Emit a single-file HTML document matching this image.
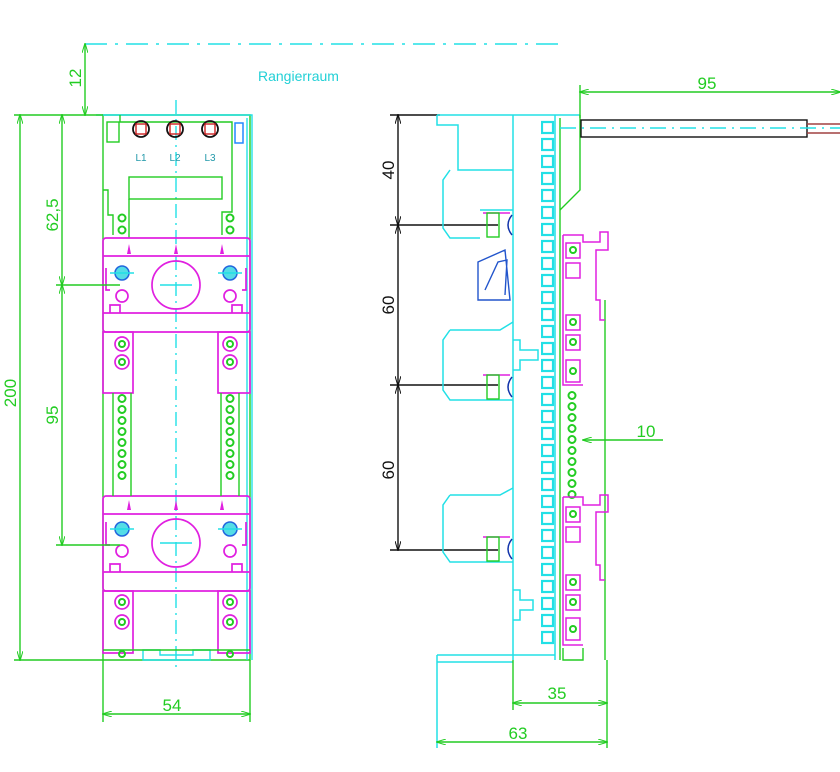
<!DOCTYPE html>
<html><head><meta charset="utf-8"><style>
html,body{margin:0;padding:0;background:#fff;width:840px;height:772px;overflow:hidden}
svg{display:block}
text{font-family:"Liberation Sans",sans-serif}
</style></head><body>
<svg width="840" height="772" viewBox="0 0 840 772" xmlns="http://www.w3.org/2000/svg">
<defs>
<pattern id="teeth" x="541" y="120" width="14" height="17" patternUnits="userSpaceOnUse">
<rect x="1" y="2" width="11" height="11" fill="none" stroke="#22e0e6" stroke-width="2.2"/>
</pattern>
<pattern id="dots" x="116" y="393" width="12" height="11" patternUnits="userSpaceOnUse">
<circle cx="6" cy="5.5" r="3.5" fill="none" stroke="#22cc22" stroke-width="2"/>
</pattern>
<pattern id="dots2" x="566" y="390" width="12" height="11" patternUnits="userSpaceOnUse">
<circle cx="6" cy="5.5" r="3.5" fill="none" stroke="#22cc22" stroke-width="2"/>
</pattern>
<marker id="ag" markerWidth="10" markerHeight="6" refX="9" refY="3" orient="auto-start-reverse" markerUnits="userSpaceOnUse"><path d="M0 0 L10 3 L0 6" fill="none" stroke="#22cc22"/></marker>
<marker id="ab" markerWidth="10" markerHeight="6" refX="9" refY="3" orient="auto-start-reverse" markerUnits="userSpaceOnUse"><path d="M0 0 L10 3 L0 6" fill="none" stroke="#111"/></marker>
</defs>
<g fill="none" stroke-width="1.4">
<line x1="85" y1="44" x2="562" y2="44" stroke="#22e0e6" stroke-dasharray="22,8,3,8"/>
<!-- FRONT VIEW -->
<path d="M103 115 H250 V660 H103 Z" stroke="#22cc22"/>
<path d="M96 115 H252 V660" stroke="#22e0e6"/>
<line x1="247" y1="118" x2="247" y2="660" stroke="#22e0e6"/>
<line x1="176" y1="100" x2="176" y2="672" stroke="#22e0e6" stroke-dasharray="14,5,2,5"/>
<path d="M120 115 V122 H232 V212 H222 V235" stroke="#22cc22"/>
<rect x="129" y="177" width="93" height="22" stroke="#22cc22"/>
<line x1="129" y1="199" x2="129" y2="238" stroke="#22cc22"/>
<rect x="107" y="122" width="12" height="20" stroke="#22cc22"/>
<rect x="235" y="123" width="8" height="20" stroke="#2288ff" stroke-width="1.5"/>
<path d="M103 190 H108 V215 H113 V235" stroke="#22cc22"/>
<g stroke="#111" stroke-width="1.8"><circle cx="141" cy="129" r="8"/><circle cx="175" cy="129" r="8"/><circle cx="210" cy="129" r="8"/></g>
<g stroke="#cc2222"><rect x="136" y="124" width="10" height="10"/><rect x="170" y="124" width="10" height="10"/><rect x="205" y="124" width="10" height="10"/></g>
<g stroke="#22cc22" stroke-width="2"><circle cx="122" cy="218" r="3.5"/><circle cx="122" cy="230" r="3.5"/><circle cx="230" cy="218" r="3.5"/><circle cx="230" cy="230" r="3.5"/></g>
<g stroke="#e020e0" stroke-width="1.7">
<rect x="103" y="238" width="147" height="94" rx="3"/>
<line x1="103" y1="256" x2="250" y2="256"/>
<line x1="103" y1="313" x2="250" y2="313"/>
<circle cx="176" cy="285" r="24"/>
<circle cx="122" cy="296" r="6"/><circle cx="230" cy="296" r="6"/>
<path d="M110 313 V305 H120 V313 M242 313 V305 H232 V313 M106 268 V290 H110 M246 268 V290 H242"/>
<rect x="103" y="332" width="30" height="61"/><rect x="218" y="332" width="32" height="61"/>
<circle cx="122" cy="344" r="7"/><circle cx="122" cy="362" r="7"/><circle cx="230" cy="344" r="7"/><circle cx="230" cy="362" r="7"/>
<rect x="103" y="496" width="147" height="95" rx="3"/>
<line x1="103" y1="514" x2="250" y2="514"/>
<line x1="103" y1="572" x2="250" y2="572"/>
<circle cx="176" cy="543" r="24"/>
<circle cx="122" cy="551" r="6"/><circle cx="230" cy="551" r="6"/>
<path d="M110 572 V564 H120 V572 M242 572 V564 H232 V572 M106 522 V545 H110 M246 522 V545 H242"/>
<rect x="103" y="591" width="30" height="62"/><rect x="218" y="591" width="32" height="62"/>
<circle cx="122" cy="602" r="7"/><circle cx="122" cy="622" r="7"/><circle cx="230" cy="602" r="7"/><circle cx="230" cy="622" r="7"/>
</g>
<g fill="#e020e0"><path d="M129 244 l2 10 h-4z"/><path d="M176 244 l2 10 h-4z"/><path d="M222 244 l2 10 h-4z"/><path d="M129 500 l2 10 h-4z"/><path d="M176 500 l2 10 h-4z"/><path d="M222 500 l2 10 h-4z"/></g>
<g stroke="#2266dd" stroke-width="1.5" fill="#55dde6"><circle cx="122" cy="273" r="7"/><circle cx="230" cy="273" r="7"/><circle cx="122" cy="529" r="7"/><circle cx="230" cy="529" r="7"/></g>
<g stroke="#22e0e6"><line x1="160" y1="285" x2="192" y2="285"/><line x1="160" y1="543" x2="192" y2="543"/><line x1="110" y1="273" x2="134" y2="273"/><line x1="218" y1="273" x2="242" y2="273"/><line x1="110" y1="529" x2="134" y2="529"/><line x1="218" y1="529" x2="242" y2="529"/></g>
<g stroke="#22cc22" stroke-width="2"><circle cx="122" cy="344" r="3"/><circle cx="122" cy="362" r="3"/><circle cx="230" cy="344" r="3"/><circle cx="230" cy="362" r="3"/><circle cx="122" cy="602" r="3"/><circle cx="122" cy="622" r="3"/><circle cx="230" cy="602" r="3"/><circle cx="230" cy="622" r="3"/><circle cx="122" cy="654" r="3"/><circle cx="230" cy="654" r="3"/></g>
<g stroke="#22cc22"><line x1="113" y1="393" x2="113" y2="496"/><line x1="131" y1="393" x2="131" y2="496"/><line x1="221" y1="393" x2="221" y2="496"/><line x1="239" y1="393" x2="239" y2="496"/></g>
<rect x="116" y="393" width="12" height="88" fill="url(#dots)" stroke="none"/>
<rect x="224" y="393" width="12" height="88" fill="url(#dots)" stroke="none"/>
<path d="M143 650 H160 V655 H193 V650 H210 V660 H143 Z" stroke="#22e0e6"/>
<line x1="103" y1="650" x2="250" y2="650" stroke="#22cc22"/>
<!-- front dims -->
<g stroke="#22cc22">
<line x1="20" y1="115" x2="20" y2="660" marker-start="url(#ag)" marker-end="url(#ag)"/><line x1="14" y1="115" x2="103" y2="115"/><line x1="14" y1="660" x2="103" y2="660"/>
<line x1="62" y1="115" x2="62" y2="285" marker-start="url(#ag)" marker-end="url(#ag)"/>
<line x1="62" y1="285" x2="62" y2="545" marker-start="url(#ag)" marker-end="url(#ag)"/><line x1="56" y1="285" x2="120" y2="285"/><line x1="56" y1="545" x2="120" y2="545"/>
<line x1="85" y1="44" x2="85" y2="115" marker-start="url(#ag)" marker-end="url(#ag)"/>
<line x1="103" y1="660" x2="103" y2="722"/><line x1="250" y1="660" x2="250" y2="722"/><line x1="103" y1="714" x2="250" y2="714" marker-start="url(#ag)" marker-end="url(#ag)"/>
</g>
<!-- SIDE VIEW -->
<g stroke="#111">
<line x1="398" y1="115" x2="398" y2="225" marker-start="url(#ab)" marker-end="url(#ab)"/>
<line x1="398" y1="225" x2="398" y2="385" marker-start="url(#ab)" marker-end="url(#ab)"/>
<line x1="398" y1="385" x2="398" y2="550" marker-start="url(#ab)" marker-end="url(#ab)"/>
<line x1="390" y1="115" x2="440" y2="115"/><line x1="390" y1="225" x2="498" y2="225"/><line x1="390" y1="385" x2="498" y2="385"/><line x1="390" y1="550" x2="498" y2="550"/>
</g>
<g stroke="#22e0e6" stroke-width="1.5">
<path d="M437 115 H580 M437 115 V125 H458 V170 H513 M513 115 V660"/>
<path d="M450 170 L443 180 V228 L450 238 H480 M480 210 H513"/>
<path d="M450 330 L443 340 V390 L450 400 H513 M450 330 H500 L513 322 M513 340 H520 V350 H538 V360 H520 V370 H513"/>
<path d="M450 495 L443 505 V552 L450 562 H513 M450 495 H500 L513 488 M513 590 H520 V600 H533 V610 H520 V620 H513"/>
<path d="M437 655 H555 M437 662 H513 M437 655 V748"/>
<line x1="555" y1="115" x2="555" y2="660"/>
</g>
<g stroke="#e020e0"><line x1="483" y1="213" x2="510" y2="213"/><line x1="483" y1="375" x2="510" y2="375"/><line x1="483" y1="537" x2="510" y2="537"/></g>
<g stroke="#22cc22"><rect x="487" y="213" width="12" height="24"/><rect x="487" y="375" width="12" height="24"/><rect x="487" y="537" width="12" height="24"/></g>
<g stroke="#1133aa" stroke-width="1.5"><path d="M512 215 q-8 10 0 20 M512 377 q-8 10 0 20 M512 539 q-8 10 0 20"/></g>
<rect x="541" y="120" width="14" height="525" fill="url(#teeth)" stroke="none"/>
<g stroke="#2255cc"><path d="M478 262 L505 250 L510 300 H478 Z M485 290 L498 262 L507 260 L505 295"/></g>
<g stroke="#22cc22">
<line x1="560" y1="118" x2="560" y2="660"/>
<path d="M580 115 V190 L560 210"/>
<line x1="605" y1="300" x2="605" y2="660"/>
<path d="M563 648 V660 H583 V648"/>
</g>
<rect x="566" y="390" width="12" height="110" fill="url(#dots2)" stroke="none"/>
<g stroke="#e020e0" stroke-width="1.5">
<path d="M563 235 H583 V242 H600 V232 H608 V250 H596 V300 H600 V320 H605 M563 235 V385 H583"/>
<rect x="566" y="243" width="14" height="15"/><rect x="566" y="263" width="14" height="15"/><rect x="566" y="315" width="14" height="15"/><rect x="566" y="335" width="14" height="15"/><rect x="566" y="360" width="14" height="22"/>
<path d="M563 497 H583 V505 H600 V495 H608 V512 H596 V565 H600 V580 H605 M563 497 V645 H583"/>
<rect x="566" y="507" width="14" height="15"/><rect x="566" y="527" width="14" height="15"/><rect x="566" y="575" width="14" height="15"/><rect x="566" y="595" width="14" height="15"/><rect x="566" y="618" width="14" height="22"/>
</g>
<g stroke="#22cc22" stroke-width="2"><circle cx="573" cy="250" r="3"/><circle cx="573" cy="322" r="3"/><circle cx="573" cy="342" r="3"/><circle cx="573" cy="371" r="3"/><circle cx="573" cy="514" r="3"/><circle cx="573" cy="582" r="3"/><circle cx="573" cy="602" r="3"/><circle cx="573" cy="629" r="3"/></g>
<rect x="581" y="120" width="226" height="17" stroke="#111"/>
<line x1="560" y1="128" x2="840" y2="128" stroke="#22e0e6" stroke-dasharray="16,6,2,6"/>
<line x1="807" y1="124" x2="840" y2="124" stroke="#a04040"/><line x1="807" y1="133" x2="840" y2="133" stroke="#a04040"/>
<g stroke="#22cc22">
<line x1="580" y1="85" x2="580" y2="118"/><line x1="580" y1="92" x2="840" y2="92" marker-start="url(#ag)" marker-end="url(#ag)"/>
<line x1="583" y1="440" x2="663" y2="440" marker-start="url(#ag)"/>
<line x1="513" y1="660" x2="513" y2="710"/><line x1="607" y1="660" x2="607" y2="748"/>
<line x1="513" y1="703" x2="607" y2="703" marker-start="url(#ag)" marker-end="url(#ag)"/><line x1="437" y1="742" x2="607" y2="742" marker-start="url(#ag)" marker-end="url(#ag)"/>
</g>
</g>
<g font-size="17" fill="#22cc22">
<text transform="translate(16,393) rotate(-90)" text-anchor="middle">200</text>
<text transform="translate(58,215) rotate(-90)" text-anchor="middle">62,5</text>
<text transform="translate(58,415) rotate(-90)" text-anchor="middle">95</text>
<text transform="translate(81,78) rotate(-90)" text-anchor="middle">12</text>
<text x="172" y="711" text-anchor="middle">54</text>
<text x="707" y="89" text-anchor="middle">95</text>
<text x="646" y="437" text-anchor="middle">10</text>
<text x="557" y="699" text-anchor="middle">35</text>
<text x="518" y="739" text-anchor="middle">63</text>
</g>
<g font-size="17" fill="#111">
<text transform="translate(394,170) rotate(-90)" text-anchor="middle">40</text>
<text transform="translate(394,305) rotate(-90)" text-anchor="middle">60</text>
<text transform="translate(394,470) rotate(-90)" text-anchor="middle">60</text>
</g>
<text x="258" y="81" font-size="14" fill="#22d0d6">Rangierraum</text>
<g font-size="10" fill="#2299aa" text-anchor="middle"><text x="141" y="161">L1</text><text x="175" y="161">L2</text><text x="210" y="161">L3</text></g>
</svg>
</body></html>
